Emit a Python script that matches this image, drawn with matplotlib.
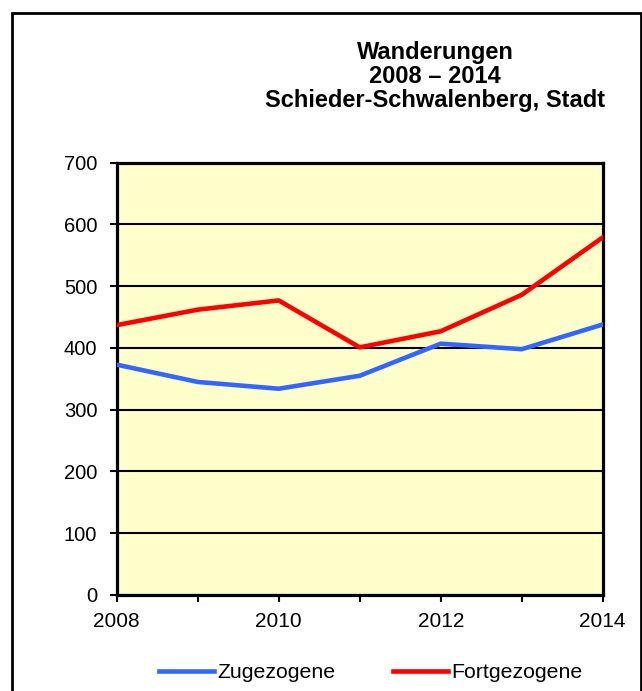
import matplotlib.pyplot as plt
from matplotlib.patches import Rectangle

years = [2008, 2009, 2010, 2011, 2012, 2013, 2014]
zugezogene = [373, 345, 334, 355, 407, 398, 438]
fortgezogene = [437, 462, 477, 401, 427, 486, 579]
y_ticks = [0, 100, 200, 300, 400, 500, 600, 700]
x_labels = [2008, 2010, 2012, 2014]
title_lines = ['Wanderungen', '2008 – 2014', 'Schieder-Schwalenberg, Stadt']

plt.rcParams['font.family'] = ['Liberation Sans', 'DejaVu Sans']

W, H = 642, 691
fig = plt.figure(figsize=(W / 100, H / 100), dpi=100)
ax = fig.add_axes([116.7 / W, 1 - 595 / H, (602.7 - 116.7) / W, (595 - 162.7) / H])
ax.set_facecolor('#FFFFCC')

ax.plot(years, zugezogene, color='#3366FF', linewidth=3.3, label='Zugezogene', zorder=3)
ax.plot(years, fortgezogene, color='#FF0000', linewidth=3.3, label='Fortgezogene', zorder=3)

ax.set_xlim(2008, 2014)
ax.set_ylim(0, 700)
ax.set_yticks(y_ticks)
ax.set_xticks(years, minor=True)
ax.set_xticks(x_labels)
ax.grid(axis='y', color='black', linewidth=1.5, zorder=1)
ax.set_axisbelow(True)
for s in ax.spines.values():
    s.set_linewidth(2.3)
ax.tick_params(which='both', direction='out', length=5, width=1.5)
ax.tick_params(axis='y', pad=9, labelsize=14.5)
ax.tick_params(axis='x', which='both', pad=7, labelsize=15)

# Titel, drei Zeilen
for i, line in enumerate(title_lines):
    fig.text(435 / W, 1 - (59 + 24 * i) / H, line, ha='center', va='baseline',
             fontsize=17, fontweight='bold')

fig.legend(loc='center', bbox_to_anchor=(370.5 / W, 1 - 673 / H), ncol=2, frameon=False,
           fontsize=15.3, handlelength=2.6, handletextpad=0.15, columnspacing=2.7)

fig.add_artist(Rectangle((12 / W, -0.05), 629 / W, 1.05 - 13 / H, transform=fig.transFigure,
                         fill=False, edgecolor='black', linewidth=2))

fig.savefig('out.png', dpi=100)
